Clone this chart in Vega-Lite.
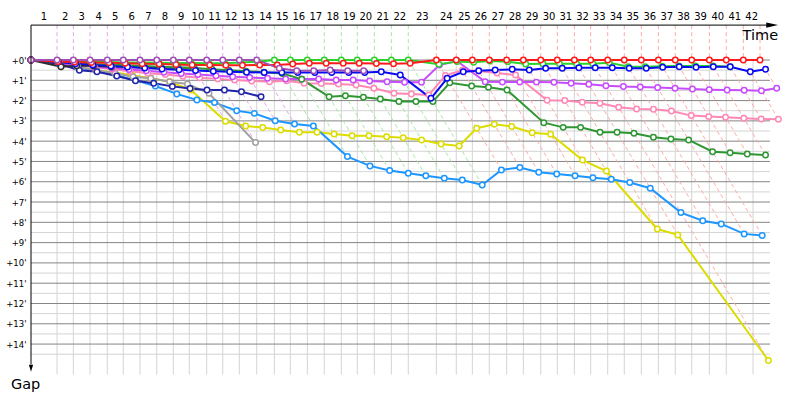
{
"$schema":"https://vega.github.io/schema/vega-lite/v6.json",
"width":747,"height":350,
"autosize":{"type":"none"},
"padding":{"left":31,"top":24.5,"right":22,"bottom":25.5},
"background":"white",
"config":{"view":{"stroke":null},"axis":{"grid":false,"ticks":false,"domain":false}},
"resolve":{"scale":{"color":"independent","stroke":"independent"}},
"datasets":{
"hmin":[{"gap":0.5},{"gap":1.5},{"gap":2.5},{"gap":3.5},{"gap":4.5},{"gap":5.5},{"gap":6.5},{"gap":7.5},{"gap":8.5},{"gap":9.5},{"gap":10.5},{"gap":11.5},{"gap":12.5},{"gap":13.5},{"gap":14.5}],
"hmaj":[{"gap":0},{"gap":1},{"gap":2},{"gap":3},{"gap":4},{"gap":5},{"gap":6},{"gap":7},{"gap":8},{"gap":9},{"gap":10},{"gap":11},{"gap":12},{"gap":13},{"gap":14}],
"laps":[
{"lap":1,"T":2.17,"mid":1.085,"G":0.33,"tEnd":2.5,"era":"p"},
{"lap":2,"T":3.53,"mid":2.85,"G":0.5,"tEnd":4.03,"era":"p"},
{"lap":3,"T":4.92,"mid":4.225,"G":0.58,"tEnd":5.5,"era":"p"},
{"lap":4,"T":6.36,"mid":5.64,"G":0.79,"tEnd":7.15,"era":"p"},
{"lap":5,"T":7.69,"mid":7.025,"G":1.02,"tEnd":8.71,"era":"p"},
{"lap":6,"T":9.08,"mid":8.385,"G":1.28,"tEnd":10.36,"era":"p"},
{"lap":7,"T":10.48,"mid":9.78,"G":1.67,"tEnd":12.15,"era":"p"},
{"lap":8,"T":11.86,"mid":11.17,"G":1.97,"tEnd":13.83,"era":"p"},
{"lap":9,"T":13.19,"mid":12.525,"G":3.02,"tEnd":16.21,"era":"p"},
{"lap":10,"T":14.64,"mid":13.915,"G":4.07,"tEnd":18.71,"era":"p"},
{"lap":11,"T":15.98,"mid":15.31,"G":3.33,"tEnd":19.31,"era":"p"},
{"lap":12,"T":17.36,"mid":16.67,"G":3.45,"tEnd":20.81,"era":"p"},
{"lap":13,"T":18.81,"mid":18.085,"G":3.56,"tEnd":22.37,"era":"p"},
{"lap":14,"T":20.28,"mid":19.545,"G":3.56,"tEnd":23.84,"era":"g"},
{"lap":15,"T":21.61,"mid":20.945,"G":4.76,"tEnd":26.37,"era":"g"},
{"lap":16,"T":23.03,"mid":22.32,"G":5.22,"tEnd":28.25,"era":"g"},
{"lap":17,"T":24.44,"mid":23.735,"G":5.45,"tEnd":29.89,"era":"g"},
{"lap":18,"T":25.86,"mid":25.15,"G":5.58,"tEnd":31.44,"era":"g"},
{"lap":19,"T":27.19,"mid":26.525,"G":5.71,"tEnd":32.9,"era":"g"},
{"lap":20,"T":28.61,"mid":27.9,"G":5.83,"tEnd":34.44,"era":"g"},
{"lap":21,"T":30.03,"mid":29.32,"G":5.91,"tEnd":35.94,"era":"g"},
{"lap":22,"T":31.44,"mid":30.735,"G":6.16,"tEnd":37.6,"era":"g"},
{"lap":23,"T":33.78,"mid":32.61,"G":5.42,"tEnd":39.2,"era":"r"},
{"lap":24,"T":35.44,"mid":34.61,"G":5.3,"tEnd":40.74,"era":"r"},
{"lap":25,"T":36.78,"mid":36.11,"G":5.53,"tEnd":42.31,"era":"r"},
{"lap":26,"T":38.19,"mid":37.485,"G":5.62,"tEnd":43.81,"era":"r"},
{"lap":27,"T":39.64,"mid":38.915,"G":5.7,"tEnd":45.34,"era":"r"},
{"lap":28,"T":41.03,"mid":40.335,"G":5.8,"tEnd":46.83,"era":"r"},
{"lap":29,"T":42.48,"mid":41.755,"G":5.88,"tEnd":48.36,"era":"r"},
{"lap":30,"T":43.86,"mid":43.17,"G":8.33,"tEnd":52.19,"era":"r"},
{"lap":31,"T":45.28,"mid":44.57,"G":8.62,"tEnd":53.9,"era":"r"},
{"lap":32,"T":46.64,"mid":45.96,"G":14.81,"tEnd":61.45,"era":"r"},
{"lap":33,"T":48.06,"mid":47.35,"G":7.92,"tEnd":55.98,"era":"r"},
{"lap":34,"T":49.44,"mid":48.75,"G":8.08,"tEnd":57.52,"era":"r"},
{"lap":35,"T":50.86,"mid":50.15,"G":8.57,"tEnd":59.43,"era":"r"},
{"lap":36,"T":52.28,"mid":51.57,"G":8.65,"tEnd":60.93,"era":"r"},
{"lap":37,"T":53.69,"mid":52.985,"G":4.57,"tEnd":58.26,"era":"r"},
{"lap":38,"T":55.06,"mid":54.375,"G":4.63,"tEnd":59.69,"era":"r"},
{"lap":39,"T":56.53,"mid":55.795,"G":4.68,"tEnd":61.21,"era":"r"},
{"lap":40,"T":57.94,"mid":57.235,"G":2.91,"tEnd":60.85,"era":"r"},
{"lap":41,"T":59.36,"mid":58.65,"G":2.92,"tEnd":62.28,"era":"r"},
{"lap":42,"T":60.75,"mid":60.055,"G":1.39,"tEnd":62.14,"era":"r"}
],
"cars":[
{"car":"yellow","lap":0,"t":0,"gap":0},{"car":"yellow","lap":1,"t":2.37,"gap":0.2},{"car":"yellow","lap":2,"t":3.88,"gap":0.35},{"car":"yellow","lap":3,"t":5.42,"gap":0.5},{"car":"yellow","lap":4,"t":6.98,"gap":0.62},{"car":"yellow","lap":5,"t":8.44,"gap":0.75},{"car":"yellow","lap":6,"t":9.98,"gap":0.9},{"car":"yellow","lap":7,"t":11.55,"gap":1.07},{"car":"yellow","lap":8,"t":13.34,"gap":1.48},{"car":"yellow","lap":9,"t":16.21,"gap":3.02},{"car":"yellow","lap":10,"t":17.89,"gap":3.25},{"car":"yellow","lap":11,"t":19.31,"gap":3.33},{"car":"yellow","lap":12,"t":20.81,"gap":3.45},{"car":"yellow","lap":13,"t":22.37,"gap":3.56},{"car":"yellow","lap":14,"t":23.84,"gap":3.56},{"car":"yellow","lap":15,"t":25.26,"gap":3.65},{"car":"yellow","lap":16,"t":26.76,"gap":3.73},{"car":"yellow","lap":17,"t":28.17,"gap":3.73},{"car":"yellow","lap":18,"t":29.64,"gap":3.78},{"car":"yellow","lap":19,"t":31.02,"gap":3.83},{"car":"yellow","lap":20,"t":32.55,"gap":3.94},{"car":"yellow","lap":21,"t":34.17,"gap":4.14},{"car":"yellow","lap":22,"t":35.68,"gap":4.24},{"car":"yellow","lap":23,"t":37.14,"gap":3.36},{"car":"yellow","lap":24,"t":38.61,"gap":3.17},{"car":"yellow","lap":25,"t":40.06,"gap":3.28},{"car":"yellow","lap":26,"t":41.77,"gap":3.58},{"car":"yellow","lap":27,"t":43.3,"gap":3.66},{"car":"yellow","lap":28,"t":45.96,"gap":4.93},{"car":"yellow","lap":29,"t":47.95,"gap":5.47},{"car":"yellow","lap":30,"t":52.19,"gap":8.33},{"car":"yellow","lap":31,"t":53.9,"gap":8.62},{"car":"yellow","lap":32,"t":61.45,"gap":14.81},
{"car":"lightblue","lap":0,"t":0,"gap":0},{"car":"lightblue","lap":1,"t":2.32,"gap":0.15},{"car":"lightblue","lap":2,"t":3.88,"gap":0.35},{"car":"lightblue","lap":3,"t":5.47,"gap":0.55},{"car":"lightblue","lap":4,"t":7.11,"gap":0.75},{"car":"lightblue","lap":5,"t":8.69,"gap":1.0},{"car":"lightblue","lap":6,"t":10.36,"gap":1.28},{"car":"lightblue","lap":7,"t":12.15,"gap":1.67},{"car":"lightblue","lap":8,"t":13.83,"gap":1.97},{"car":"lightblue","lap":9,"t":15.29,"gap":2.1},{"car":"lightblue","lap":10,"t":17.14,"gap":2.5},{"car":"lightblue","lap":11,"t":18.61,"gap":2.63},{"car":"lightblue","lap":12,"t":20.35,"gap":2.99},{"car":"lightblue","lap":13,"t":21.96,"gap":3.15},{"car":"lightblue","lap":14,"t":23.53,"gap":3.25},{"car":"lightblue","lap":15,"t":26.37,"gap":4.76},{"car":"lightblue","lap":16,"t":28.25,"gap":5.22},{"car":"lightblue","lap":17,"t":29.89,"gap":5.45},{"car":"lightblue","lap":18,"t":31.44,"gap":5.58},{"car":"lightblue","lap":19,"t":32.9,"gap":5.71},{"car":"lightblue","lap":20,"t":34.44,"gap":5.83},{"car":"lightblue","lap":21,"t":35.94,"gap":5.91},{"car":"lightblue","lap":22,"t":37.6,"gap":6.16},{"car":"lightblue","lap":23,"t":39.2,"gap":5.42},{"car":"lightblue","lap":24,"t":40.74,"gap":5.3},{"car":"lightblue","lap":25,"t":42.31,"gap":5.53},{"car":"lightblue","lap":26,"t":43.81,"gap":5.62},{"car":"lightblue","lap":27,"t":45.34,"gap":5.7},{"car":"lightblue","lap":28,"t":46.83,"gap":5.8},{"car":"lightblue","lap":29,"t":48.36,"gap":5.88},{"car":"lightblue","lap":30,"t":49.9,"gap":6.04},{"car":"lightblue","lap":31,"t":51.6,"gap":6.32},{"car":"lightblue","lap":32,"t":54.16,"gap":7.52},{"car":"lightblue","lap":33,"t":55.98,"gap":7.92},{"car":"lightblue","lap":34,"t":57.52,"gap":8.08},{"car":"lightblue","lap":35,"t":59.43,"gap":8.57},{"car":"lightblue","lap":36,"t":60.93,"gap":8.65},
{"car":"gray","lap":0,"t":0,"gap":0},{"car":"gray","lap":1,"t":2.37,"gap":0.2},{"car":"gray","lap":2,"t":3.86,"gap":0.33},{"car":"gray","lap":3,"t":5.42,"gap":0.5},{"car":"gray","lap":4,"t":7.01,"gap":0.65},{"car":"gray","lap":5,"t":8.51,"gap":0.82},{"car":"gray","lap":6,"t":9.98,"gap":0.9},{"car":"gray","lap":7,"t":11.55,"gap":1.07},{"car":"gray","lap":8,"t":13.04,"gap":1.18},{"car":"gray","lap":9,"t":14.83,"gap":1.64},{"car":"gray","lap":10,"t":18.71,"gap":4.07},
{"car":"pink","lap":0,"t":0,"gap":0},{"car":"pink","lap":1,"t":2.32,"gap":0.15},{"car":"pink","lap":2,"t":3.78,"gap":0.25},{"car":"pink","lap":3,"t":5.27,"gap":0.35},{"car":"pink","lap":4,"t":6.81,"gap":0.45},{"car":"pink","lap":5,"t":8.24,"gap":0.55},{"car":"pink","lap":6,"t":9.73,"gap":0.65},{"car":"pink","lap":7,"t":11.2,"gap":0.72},{"car":"pink","lap":8,"t":12.66,"gap":0.8},{"car":"pink","lap":9,"t":14.06,"gap":0.87},{"car":"pink","lap":10,"t":15.57,"gap":0.93},{"car":"pink","lap":11,"t":16.96,"gap":0.98},{"car":"pink","lap":12,"t":18.39,"gap":1.03},{"car":"pink","lap":13,"t":19.88,"gap":1.07},{"car":"pink","lap":14,"t":21.3,"gap":1.02},{"car":"pink","lap":15,"t":22.76,"gap":1.15},{"car":"pink","lap":16,"t":24.19,"gap":1.16},{"car":"pink","lap":17,"t":25.62,"gap":1.18},{"car":"pink","lap":18,"t":27.09,"gap":1.23},{"car":"pink","lap":19,"t":28.58,"gap":1.39},{"car":"pink","lap":20,"t":30.25,"gap":1.64},{"car":"pink","lap":21,"t":31.7,"gap":1.67},{"car":"pink","lap":22,"t":33.16,"gap":1.72},{"car":"pink","lap":23,"t":34.54,"gap":0.76},{"car":"pink","lap":24,"t":35.95,"gap":0.51},{"car":"pink","lap":25,"t":37.32,"gap":0.54},{"car":"pink","lap":26,"t":38.83,"gap":0.64},{"car":"pink","lap":27,"t":40.38,"gap":0.74},{"car":"pink","lap":28,"t":43.01,"gap":1.98},{"car":"pink","lap":29,"t":44.48,"gap":2.0},{"car":"pink","lap":30,"t":45.94,"gap":2.08},{"car":"pink","lap":31,"t":47.41,"gap":2.13},{"car":"pink","lap":32,"t":48.97,"gap":2.33},{"car":"pink","lap":33,"t":50.47,"gap":2.41},{"car":"pink","lap":34,"t":51.87,"gap":2.43},{"car":"pink","lap":35,"t":53.37,"gap":2.51},{"car":"pink","lap":36,"t":55.02,"gap":2.74},{"car":"pink","lap":37,"t":56.48,"gap":2.79},{"car":"pink","lap":38,"t":57.88,"gap":2.82},{"car":"pink","lap":39,"t":59.4,"gap":2.87},{"car":"pink","lap":40,"t":60.85,"gap":2.91},{"car":"pink","lap":41,"t":62.28,"gap":2.92},
{"car":"magenta","lap":0,"t":0,"gap":0},{"car":"magenta","lap":1,"t":2.32,"gap":0.15},{"car":"magenta","lap":2,"t":3.78,"gap":0.25},{"car":"magenta","lap":3,"t":5.25,"gap":0.33},{"car":"magenta","lap":4,"t":6.76,"gap":0.4},{"car":"magenta","lap":5,"t":8.16,"gap":0.47},{"car":"magenta","lap":6,"t":9.61,"gap":0.53},{"car":"magenta","lap":7,"t":11.08,"gap":0.6},{"car":"magenta","lap":8,"t":12.52,"gap":0.66},{"car":"magenta","lap":9,"t":13.91,"gap":0.72},{"car":"magenta","lap":10,"t":15.42,"gap":0.78},{"car":"magenta","lap":11,"t":16.81,"gap":0.83},{"car":"magenta","lap":12,"t":18.22,"gap":0.86},{"car":"magenta","lap":13,"t":19.71,"gap":0.9},{"car":"magenta","lap":14,"t":21.22,"gap":0.94},{"car":"magenta","lap":15,"t":22.54,"gap":0.93},{"car":"magenta","lap":16,"t":23.97,"gap":0.94},{"car":"magenta","lap":17,"t":25.43,"gap":0.99},{"car":"magenta","lap":18,"t":26.85,"gap":0.99},{"car":"magenta","lap":19,"t":28.22,"gap":1.03},{"car":"magenta","lap":20,"t":29.68,"gap":1.07},{"car":"magenta","lap":21,"t":31.13,"gap":1.1},{"car":"magenta","lap":22,"t":32.54,"gap":1.1},{"car":"magenta","lap":23,"t":34.03,"gap":0.25},{"car":"magenta","lap":24,"t":35.49,"gap":0.05},{"car":"magenta","lap":25,"t":37.85,"gap":1.07},{"car":"magenta","lap":26,"t":39.28,"gap":1.09},{"car":"magenta","lap":27,"t":40.73,"gap":1.09},{"car":"magenta","lap":28,"t":42.12,"gap":1.09},{"car":"magenta","lap":29,"t":43.58,"gap":1.1},{"car":"magenta","lap":30,"t":45.01,"gap":1.15},{"car":"magenta","lap":31,"t":46.48,"gap":1.2},{"car":"magenta","lap":32,"t":47.91,"gap":1.27},{"car":"magenta","lap":33,"t":49.37,"gap":1.31},{"car":"magenta","lap":34,"t":50.77,"gap":1.33},{"car":"magenta","lap":35,"t":52.22,"gap":1.36},{"car":"magenta","lap":36,"t":53.67,"gap":1.39},{"car":"magenta","lap":37,"t":55.12,"gap":1.43},{"car":"magenta","lap":38,"t":56.52,"gap":1.46},{"car":"magenta","lap":39,"t":58.01,"gap":1.48},{"car":"magenta","lap":40,"t":59.43,"gap":1.49},{"car":"magenta","lap":41,"t":60.87,"gap":1.51},{"car":"magenta","lap":42,"t":62.14,"gap":1.39},
{"car":"navy","lap":0,"t":0,"gap":0},{"car":"navy","lap":1,"t":2.37,"gap":0.2},{"car":"navy","lap":2,"t":4.03,"gap":0.5},{"car":"navy","lap":3,"t":5.5,"gap":0.58},{"car":"navy","lap":4,"t":7.15,"gap":0.79},{"car":"navy","lap":5,"t":8.71,"gap":1.02},{"car":"navy","lap":6,"t":10.23,"gap":1.15},{"car":"navy","lap":7,"t":11.78,"gap":1.3},{"car":"navy","lap":8,"t":13.26,"gap":1.4},{"car":"navy","lap":9,"t":14.67,"gap":1.48},{"car":"navy","lap":10,"t":16.12,"gap":1.48},{"car":"navy","lap":11,"t":17.54,"gap":1.56},{"car":"navy","lap":12,"t":19.17,"gap":1.81},
{"car":"black","lap":0,"t":0,"gap":0},{"car":"black","lap":1,"t":2.5,"gap":0.33},{"car":"black","lap":2,"t":3.81,"gap":0.28},{"car":"black","lap":3,"t":5.2,"gap":0.28},{"car":"black","lap":4,"t":6.69,"gap":0.33},{"car":"black","lap":5,"t":8.02,"gap":0.33},{"car":"black","lap":6,"t":9.46,"gap":0.38},{"car":"black","lap":7,"t":10.86,"gap":0.38},{"car":"black","lap":8,"t":12.24,"gap":0.38},{"car":"black","lap":9,"t":13.57,"gap":0.38},
{"car":"darkgreen","lap":0,"t":0,"gap":0},{"car":"darkgreen","lap":1,"t":2.27,"gap":0.1},{"car":"darkgreen","lap":2,"t":3.68,"gap":0.15},{"car":"darkgreen","lap":3,"t":5.12,"gap":0.2},{"car":"darkgreen","lap":4,"t":6.59,"gap":0.23},{"car":"darkgreen","lap":5,"t":7.95,"gap":0.26},{"car":"darkgreen","lap":6,"t":9.38,"gap":0.3},{"car":"darkgreen","lap":7,"t":10.81,"gap":0.33},{"car":"darkgreen","lap":8,"t":12.23,"gap":0.37},{"car":"darkgreen","lap":9,"t":13.59,"gap":0.4},{"car":"darkgreen","lap":10,"t":15.09,"gap":0.45},{"car":"darkgreen","lap":11,"t":16.48,"gap":0.5},{"car":"darkgreen","lap":12,"t":17.91,"gap":0.55},{"car":"darkgreen","lap":13,"t":19.41,"gap":0.6},{"car":"darkgreen","lap":14,"t":20.94,"gap":0.66},{"car":"darkgreen","lap":15,"t":22.56,"gap":0.95},{"car":"darkgreen","lap":16,"t":24.84,"gap":1.81},{"car":"darkgreen","lap":17,"t":26.2,"gap":1.76},{"car":"darkgreen","lap":18,"t":27.7,"gap":1.84},{"car":"darkgreen","lap":19,"t":29.11,"gap":1.92},{"car":"darkgreen","lap":20,"t":30.66,"gap":2.05},{"car":"darkgreen","lap":21,"t":32.08,"gap":2.05},{"car":"darkgreen","lap":22,"t":33.49,"gap":2.05},{"car":"darkgreen","lap":23,"t":34.9,"gap":1.12},{"car":"darkgreen","lap":24,"t":36.72,"gap":1.28},{"car":"darkgreen","lap":25,"t":38.12,"gap":1.34},{"car":"darkgreen","lap":26,"t":39.67,"gap":1.48},{"car":"darkgreen","lap":27,"t":42.73,"gap":3.09},{"car":"darkgreen","lap":28,"t":44.35,"gap":3.32},{"car":"darkgreen","lap":29,"t":45.8,"gap":3.32},{"car":"darkgreen","lap":30,"t":47.42,"gap":3.56},{"car":"darkgreen","lap":31,"t":48.84,"gap":3.56},{"car":"darkgreen","lap":32,"t":50.25,"gap":3.61},{"car":"darkgreen","lap":33,"t":51.87,"gap":3.81},{"car":"darkgreen","lap":34,"t":53.33,"gap":3.89},{"car":"darkgreen","lap":35,"t":54.8,"gap":3.94},{"car":"darkgreen","lap":36,"t":56.8,"gap":4.52},{"car":"darkgreen","lap":37,"t":58.26,"gap":4.57},{"car":"darkgreen","lap":38,"t":59.69,"gap":4.63},{"car":"darkgreen","lap":39,"t":61.21,"gap":4.68},
{"car":"green","lap":0,"t":0,"gap":0},{"car":"green","lap":1,"t":2.23,"gap":0.06},{"car":"green","lap":2,"t":3.61,"gap":0.08},{"car":"green","lap":3,"t":5.02,"gap":0.1},{"car":"green","lap":4,"t":6.46,"gap":0.1},{"car":"green","lap":5,"t":7.81,"gap":0.12},{"car":"green","lap":6,"t":9.2,"gap":0.12},{"car":"green","lap":7,"t":10.62,"gap":0.14},{"car":"green","lap":8,"t":12.01,"gap":0.15},{"car":"green","lap":9,"t":13.34,"gap":0.15},{"car":"green","lap":10,"t":14.8,"gap":0.16},{"car":"green","lap":11,"t":16.14,"gap":0.16},{"car":"green","lap":12,"t":17.48,"gap":0.12},{"car":"green","lap":13,"t":18.89,"gap":0.08},{"car":"green","lap":14,"t":20.28,"gap":0},{"car":"green","lap":15,"t":21.61,"gap":0},{"car":"green","lap":16,"t":23.03,"gap":0},{"car":"green","lap":17,"t":24.44,"gap":0},{"car":"green","lap":18,"t":25.86,"gap":0},{"car":"green","lap":19,"t":27.19,"gap":0},{"car":"green","lap":20,"t":28.61,"gap":0},{"car":"green","lap":21,"t":30.03,"gap":0},{"car":"green","lap":22,"t":31.44,"gap":0},{"car":"green","lap":23,"t":33.99,"gap":0.21},{"car":"green","lap":24,"t":35.51,"gap":0.07},{"car":"green","lap":25,"t":36.89,"gap":0.11},{"car":"green","lap":26,"t":38.24,"gap":0.05},{"car":"green","lap":27,"t":39.72,"gap":0.08},{"car":"green","lap":28,"t":41.23,"gap":0.2},{"car":"green","lap":29,"t":42.66,"gap":0.18},{"car":"green","lap":30,"t":44.04,"gap":0.18},{"car":"green","lap":31,"t":45.46,"gap":0.18},{"car":"green","lap":32,"t":46.82,"gap":0.18},{"car":"green","lap":33,"t":48.19,"gap":0.13},{"car":"green","lap":34,"t":49.77,"gap":0.33},{"car":"green","lap":35,"t":51.19,"gap":0.33},{"car":"green","lap":36,"t":52.59,"gap":0.31},{"car":"green","lap":37,"t":53.99,"gap":0.3},{"car":"green","lap":38,"t":55.36,"gap":0.3},{"car":"green","lap":39,"t":56.83,"gap":0.3},{"car":"green","lap":40,"t":58.27,"gap":0.33},
{"car":"blue","lap":0,"t":0,"gap":0},{"car":"blue","lap":1,"t":2.27,"gap":0.1},{"car":"blue","lap":2,"t":3.71,"gap":0.18},{"car":"blue","lap":3,"t":5.16,"gap":0.24},{"car":"blue","lap":4,"t":6.66,"gap":0.3},{"car":"blue","lap":5,"t":8.04,"gap":0.35},{"car":"blue","lap":6,"t":9.48,"gap":0.4},{"car":"blue","lap":7,"t":10.92,"gap":0.44},{"car":"blue","lap":8,"t":12.34,"gap":0.48},{"car":"blue","lap":9,"t":13.71,"gap":0.52},{"car":"blue","lap":10,"t":15.19,"gap":0.55},{"car":"blue","lap":11,"t":16.56,"gap":0.58},{"car":"blue","lap":12,"t":17.96,"gap":0.6},{"car":"blue","lap":13,"t":19.43,"gap":0.62},{"car":"blue","lap":14,"t":20.9,"gap":0.62},{"car":"blue","lap":15,"t":22.23,"gap":0.62},{"car":"blue","lap":16,"t":23.65,"gap":0.62},{"car":"blue","lap":17,"t":25.06,"gap":0.62},{"car":"blue","lap":18,"t":26.48,"gap":0.62},{"car":"blue","lap":19,"t":27.81,"gap":0.62},{"car":"blue","lap":20,"t":29.19,"gap":0.58},{"car":"blue","lap":21,"t":30.77,"gap":0.74},{"car":"blue","lap":22,"t":33.33,"gap":1.89},{"car":"blue","lap":23,"t":34.68,"gap":0.9},{"car":"blue","lap":24,"t":36.02,"gap":0.58},{"car":"blue","lap":25,"t":37.31,"gap":0.53},{"car":"blue","lap":26,"t":38.68,"gap":0.49},{"car":"blue","lap":27,"t":40.1,"gap":0.46},{"car":"blue","lap":28,"t":41.52,"gap":0.49},{"car":"blue","lap":29,"t":42.89,"gap":0.41},{"car":"blue","lap":30,"t":44.27,"gap":0.41},{"car":"blue","lap":31,"t":45.66,"gap":0.38},{"car":"blue","lap":32,"t":47.02,"gap":0.38},{"car":"blue","lap":33,"t":48.44,"gap":0.38},{"car":"blue","lap":34,"t":49.85,"gap":0.41},{"car":"blue","lap":35,"t":51.27,"gap":0.41},{"car":"blue","lap":36,"t":52.64,"gap":0.36},{"car":"blue","lap":37,"t":54.02,"gap":0.33},{"car":"blue","lap":38,"t":55.42,"gap":0.36},{"car":"blue","lap":39,"t":56.86,"gap":0.33},{"car":"blue","lap":40,"t":58.27,"gap":0.33},{"car":"blue","lap":41,"t":59.94,"gap":0.58},{"car":"blue","lap":42,"t":61.21,"gap":0.46},
{"car":"red","lap":0,"t":0,"gap":0},{"car":"red","lap":1,"t":2.25,"gap":0.08},{"car":"red","lap":2,"t":3.63,"gap":0.1},{"car":"red","lap":3,"t":5.04,"gap":0.12},{"car":"red","lap":4,"t":6.5,"gap":0.14},{"car":"red","lap":5,"t":7.85,"gap":0.16},{"car":"red","lap":6,"t":9.26,"gap":0.18},{"car":"red","lap":7,"t":10.68,"gap":0.2},{"car":"red","lap":8,"t":12.08,"gap":0.22},{"car":"red","lap":9,"t":13.43,"gap":0.24},{"car":"red","lap":10,"t":14.89,"gap":0.25},{"car":"red","lap":11,"t":16.24,"gap":0.26},{"car":"red","lap":12,"t":17.62,"gap":0.26},{"car":"red","lap":13,"t":19.06,"gap":0.25},{"car":"red","lap":14,"t":20.52,"gap":0.24},{"car":"red","lap":15,"t":21.81,"gap":0.2},{"car":"red","lap":16,"t":23.19,"gap":0.16},{"car":"red","lap":17,"t":24.6,"gap":0.16},{"car":"red","lap":18,"t":26.02,"gap":0.16},{"car":"red","lap":19,"t":27.35,"gap":0.16},{"car":"red","lap":20,"t":28.78,"gap":0.17},{"car":"red","lap":21,"t":30.21,"gap":0.18},{"car":"red","lap":22,"t":31.6,"gap":0.16},{"car":"red","lap":23,"t":33.78,"gap":0},{"car":"red","lap":24,"t":35.44,"gap":0},{"car":"red","lap":25,"t":36.78,"gap":0},{"car":"red","lap":26,"t":38.19,"gap":0},{"car":"red","lap":27,"t":39.64,"gap":0},{"car":"red","lap":28,"t":41.03,"gap":0},{"car":"red","lap":29,"t":42.48,"gap":0},{"car":"red","lap":30,"t":43.86,"gap":0},{"car":"red","lap":31,"t":45.28,"gap":0},{"car":"red","lap":32,"t":46.64,"gap":0},{"car":"red","lap":33,"t":48.06,"gap":0},{"car":"red","lap":34,"t":49.44,"gap":0},{"car":"red","lap":35,"t":50.86,"gap":0},{"car":"red","lap":36,"t":52.28,"gap":0},{"car":"red","lap":37,"t":53.69,"gap":0},{"car":"red","lap":38,"t":55.06,"gap":0},{"car":"red","lap":39,"t":56.53,"gap":0},{"car":"red","lap":40,"t":57.94,"gap":0},{"car":"red","lap":41,"t":59.36,"gap":0},{"car":"red","lap":42,"t":60.75,"gap":0},
{"car":"purple","lap":0,"t":0,"gap":0},{"car":"purple","lap":1,"t":2.17,"gap":0},{"car":"purple","lap":2,"t":3.53,"gap":0},{"car":"purple","lap":3,"t":4.92,"gap":0},{"car":"purple","lap":4,"t":6.36,"gap":0},{"car":"purple","lap":5,"t":7.69,"gap":0},{"car":"purple","lap":6,"t":9.08,"gap":0},{"car":"purple","lap":7,"t":10.48,"gap":0},{"car":"purple","lap":8,"t":11.86,"gap":0},{"car":"purple","lap":9,"t":13.19,"gap":0},{"car":"purple","lap":10,"t":14.64,"gap":0},{"car":"purple","lap":11,"t":15.98,"gap":0},{"car":"purple","lap":12,"t":17.36,"gap":0},{"car":"purple","lap":13,"t":18.81,"gap":0},{"car":"purple","lap":14,"t":20.69,"gap":0.41},{"car":"purple","lap":15,"t":22.14,"gap":0.53},{"car":"purple","lap":16,"t":23.56,"gap":0.53},{"car":"purple","lap":17,"t":24.93,"gap":0.49},{"car":"purple","lap":18,"t":26.39,"gap":0.53},{"car":"purple","lap":19,"t":27.72,"gap":0.53}
]
},
"layer":[
{"data":{"name":"hmin"},"mark":{"type":"rule","color":"#d4d4d4","strokeWidth":1},
 "encoding":{"y":{"field":"gap","type":"quantitative","scale":{"domain":[-1.75,15.5],"reverse":true,"nice":false,"zero":false},"axis":{"values":[0,1,2,3,4,5,6,7,8,9,10,11,12,13,14],"labelExpr":"'+' + datum.value + \"'\"","title":null,"labelPadding":5,"labelFont":"DejaVu Sans","labelFontSize":8.5,"labelColor":"#000000"}},
 "x":{"datum":0,"type":"quantitative","scale":{"domain":[0,62.25],"nice":false,"zero":false},"axis":null},"x2":{"datum":61.58}}},
{"data":{"name":"laps"},"transform":[{"filter":"datum.lap <= 40"}],"mark":{"type":"rule","color":"#d4d4d4","strokeWidth":1},
 "encoding":{"x":{"field":"T","type":"quantitative","scale":{"domain":[0,62.25],"nice":false,"zero":false},"axis":null},
 "y":{"datum":0,"type":"quantitative","scale":{"domain":[-1.75,15.5],"reverse":true,"nice":false,"zero":false},"axis":{"values":[0,1,2,3,4,5,6,7,8,9,10,11,12,13,14],"labelExpr":"'+' + datum.value + \"'\"","title":null,"labelPadding":5,"labelFont":"DejaVu Sans","labelFontSize":8.5,"labelColor":"#000000"}},"y2":{"datum":15.5}}},
{"data":{"values":[{}]},"mark":{"type":"rule","color":"#d4d4d4","strokeWidth":1},
 "encoding":{"x":{"datum":60.17,"type":"quantitative","scale":{"domain":[0,62.25],"nice":false,"zero":false},"axis":null},
 "y":{"datum":0,"type":"quantitative","scale":{"domain":[-1.75,15.5],"reverse":true,"nice":false,"zero":false},"axis":{"values":[0,1,2,3,4,5,6,7,8,9,10,11,12,13,14],"labelExpr":"'+' + datum.value + \"'\"","title":null,"labelPadding":5,"labelFont":"DejaVu Sans","labelFontSize":8.5,"labelColor":"#000000"}},"y2":{"datum":15.5}}},
{"data":{"name":"hmaj"},"mark":{"type":"rule","color":"#858585","strokeWidth":1},
 "encoding":{"y":{"field":"gap","type":"quantitative","scale":{"domain":[-1.75,15.5],"reverse":true,"nice":false,"zero":false},"axis":{"values":[0,1,2,3,4,5,6,7,8,9,10,11,12,13,14],"labelExpr":"'+' + datum.value + \"'\"","title":null,"labelPadding":5,"labelFont":"DejaVu Sans","labelFontSize":8.5,"labelColor":"#000000"}},
 "x":{"datum":0,"type":"quantitative","scale":{"domain":[0,62.25],"nice":false,"zero":false},"axis":null},"x2":{"datum":61.58}}},
{"data":{"name":"laps"},"mark":{"type":"rule","strokeWidth":1,"strokeDash":[4,3]},
 "encoding":{"x":{"field":"T","type":"quantitative","scale":{"domain":[0,62.25],"nice":false,"zero":false},"axis":null},
 "y":{"datum":-1.72,"type":"quantitative","scale":{"domain":[-1.75,15.5],"reverse":true,"nice":false,"zero":false},"axis":{"values":[0,1,2,3,4,5,6,7,8,9,10,11,12,13,14],"labelExpr":"'+' + datum.value + \"'\"","title":null,"labelPadding":5,"labelFont":"DejaVu Sans","labelFontSize":8.5,"labelColor":"#000000"}},"y2":{"datum":0},
 "color":{"field":"era","type":"nominal","scale":{"domain":["p","g","r"],"range":["#e2a8ea","#a8e6a8","#ffaaaa"]},"legend":null}}},
{"data":{"name":"laps"},"mark":{"type":"rule","strokeWidth":1,"strokeDash":[4,3]},
 "encoding":{"x":{"field":"tEnd","type":"quantitative","scale":{"domain":[0,62.25],"nice":false,"zero":false},"axis":null},
 "y":{"field":"G","type":"quantitative","scale":{"domain":[-1.75,15.5],"reverse":true,"nice":false,"zero":false},"axis":{"values":[0,1,2,3,4,5,6,7,8,9,10,11,12,13,14],"labelExpr":"'+' + datum.value + \"'\"","title":null,"labelPadding":5,"labelFont":"DejaVu Sans","labelFontSize":8.5,"labelColor":"#000000"}},
 "x2":{"field":"T"},"y2":{"datum":0},
 "color":{"field":"era","type":"nominal","scale":{"domain":["p","g","r"],"range":["#e2a8ea","#a8e6a8","#ffaaaa"]},"legend":null}}},
{"data":{"name":"cars"},"mark":{"type":"line","strokeWidth":2},
 "encoding":{"x":{"field":"t","type":"quantitative","scale":{"domain":[0,62.25],"nice":false,"zero":false},"axis":null},
 "y":{"field":"gap","type":"quantitative","scale":{"domain":[-1.75,15.5],"reverse":true,"nice":false,"zero":false},"axis":{"values":[0,1,2,3,4,5,6,7,8,9,10,11,12,13,14],"labelExpr":"'+' + datum.value + \"'\"","title":null,"labelPadding":5,"labelFont":"DejaVu Sans","labelFontSize":8.5,"labelColor":"#000000"}},
 "color":{"field":"car","type":"nominal","scale":{"domain":["yellow","lightblue","gray","pink","magenta","navy","black","darkgreen","green","blue","red","purple"],"range":["#dcdc00","#1e96ff","#a0a0a0","#ff88b4","#c84cff","#2323a8","#303030","#2e9632","#2ad22a","#0a0af0","#ff1a1a","#a050b4"]},"legend":null},
 "order":{"field":"lap","type":"quantitative"}}},
{"data":{"name":"cars"},"mark":{"type":"point","shape":"circle","fill":"white","fillOpacity":1,"opacity":1,"size":30,"strokeWidth":1.5},
 "encoding":{"x":{"field":"t","type":"quantitative","scale":{"domain":[0,62.25],"nice":false,"zero":false},"axis":null},
 "y":{"field":"gap","type":"quantitative","scale":{"domain":[-1.75,15.5],"reverse":true,"nice":false,"zero":false},"axis":{"values":[0,1,2,3,4,5,6,7,8,9,10,11,12,13,14],"labelExpr":"'+' + datum.value + \"'\"","title":null,"labelPadding":5,"labelFont":"DejaVu Sans","labelFontSize":8.5,"labelColor":"#000000"}},
 "stroke":{"field":"car","type":"nominal","scale":{"domain":["yellow","lightblue","gray","pink","magenta","navy","black","darkgreen","green","blue","red","purple"],"range":["#dcdc00","#1e96ff","#a0a0a0","#ff88b4","#c84cff","#2323a8","#303030","#2e9632","#2ad22a","#0a0af0","#ff1a1a","#a050b4"]},"legend":null}}},
{"data":{"values":[{}]},"mark":{"type":"rule","color":"#000000","strokeWidth":1},
 "encoding":{"x":{"datum":0,"type":"quantitative","scale":{"domain":[0,62.25],"nice":false,"zero":false},"axis":null},"x2":{"datum":61.5},
 "y":{"datum":-1.72,"type":"quantitative","scale":{"domain":[-1.75,15.5],"reverse":true,"nice":false,"zero":false},"axis":{"values":[0,1,2,3,4,5,6,7,8,9,10,11,12,13,14],"labelExpr":"'+' + datum.value + \"'\"","title":null,"labelPadding":5,"labelFont":"DejaVu Sans","labelFontSize":8.5,"labelColor":"#000000"}}}},
{"data":{"values":[{}]},"mark":{"type":"rule","color":"#000000","strokeWidth":1},
 "encoding":{"x":{"datum":0,"type":"quantitative","scale":{"domain":[0,62.25],"nice":false,"zero":false},"axis":null},
 "y":{"datum":-1.72,"type":"quantitative","scale":{"domain":[-1.75,15.5],"reverse":true,"nice":false,"zero":false},"axis":{"values":[0,1,2,3,4,5,6,7,8,9,10,11,12,13,14],"labelExpr":"'+' + datum.value + \"'\"","title":null,"labelPadding":5,"labelFont":"DejaVu Sans","labelFontSize":8.5,"labelColor":"#000000"}},"y2":{"datum":15.0}}},
{"data":{"values":[{}]},"mark":{"type":"point","shape":"M-1,-0.23L0,0L-1,0.23Z","filled":true,"color":"#000000","size":550,"opacity":1,"strokeWidth":0},
 "encoding":{"x":{"datum":62.25,"type":"quantitative","scale":{"domain":[0,62.25],"nice":false,"zero":false},"axis":null},
 "y":{"datum":-1.72,"type":"quantitative","scale":{"domain":[-1.75,15.5],"reverse":true,"nice":false,"zero":false},"axis":{"values":[0,1,2,3,4,5,6,7,8,9,10,11,12,13,14],"labelExpr":"'+' + datum.value + \"'\"","title":null,"labelPadding":5,"labelFont":"DejaVu Sans","labelFontSize":8.5,"labelColor":"#000000"}}}},
{"data":{"values":[{}]},"mark":{"type":"point","shape":"M-0.3,-1L0,0L0.3,-1Z","filled":true,"color":"#000000","size":200,"opacity":1,"strokeWidth":0},
 "encoding":{"x":{"datum":0,"type":"quantitative","scale":{"domain":[0,62.25],"nice":false,"zero":false},"axis":null},
 "y":{"datum":15.37,"type":"quantitative","scale":{"domain":[-1.75,15.5],"reverse":true,"nice":false,"zero":false},"axis":{"values":[0,1,2,3,4,5,6,7,8,9,10,11,12,13,14],"labelExpr":"'+' + datum.value + \"'\"","title":null,"labelPadding":5,"labelFont":"DejaVu Sans","labelFontSize":8.5,"labelColor":"#000000"}}}},
{"data":{"name":"laps"},"mark":{"type":"text","font":"DejaVu Sans","fontSize":10,"color":"#000000","align":"center","baseline":"middle"},
 "encoding":{"x":{"field":"mid","type":"quantitative","scale":{"domain":[0,62.25],"nice":false,"zero":false},"axis":null},
 "y":{"datum":-2.1,"type":"quantitative","scale":{"domain":[-1.75,15.5],"reverse":true,"nice":false,"zero":false},"axis":{"values":[0,1,2,3,4,5,6,7,8,9,10,11,12,13,14],"labelExpr":"'+' + datum.value + \"'\"","title":null,"labelPadding":5,"labelFont":"DejaVu Sans","labelFontSize":8.5,"labelColor":"#000000"}},
 "text":{"field":"lap","type":"nominal"}}},
{"data":{"values":[{"label":"Time"}]},"mark":{"type":"text","font":"DejaVu Sans","fontSize":14.5,"color":"#000000","align":"left","baseline":"alphabetic"},
 "encoding":{"x":{"datum":59.3,"type":"quantitative","scale":{"domain":[0,62.25],"nice":false,"zero":false},"axis":null},
 "y":{"datum":-0.99,"type":"quantitative","scale":{"domain":[-1.75,15.5],"reverse":true,"nice":false,"zero":false},"axis":{"values":[0,1,2,3,4,5,6,7,8,9,10,11,12,13,14],"labelExpr":"'+' + datum.value + \"'\"","title":null,"labelPadding":5,"labelFont":"DejaVu Sans","labelFontSize":8.5,"labelColor":"#000000"}},
 "text":{"field":"label","type":"nominal"}}},
{"data":{"values":[{"label":"Gap"}]},"mark":{"type":"text","font":"DejaVu Sans","fontSize":14.5,"color":"#000000","align":"center","baseline":"alphabetic"},
 "encoding":{"x":{"datum":-0.45,"type":"quantitative","scale":{"domain":[0,62.25],"nice":false,"zero":false},"axis":null},
 "y":{"datum":16.2,"type":"quantitative","scale":{"domain":[-1.75,15.5],"reverse":true,"nice":false,"zero":false},"axis":{"values":[0,1,2,3,4,5,6,7,8,9,10,11,12,13,14],"labelExpr":"'+' + datum.value + \"'\"","title":null,"labelPadding":5,"labelFont":"DejaVu Sans","labelFontSize":8.5,"labelColor":"#000000"}},
 "text":{"field":"label","type":"nominal"}}}
]
}
